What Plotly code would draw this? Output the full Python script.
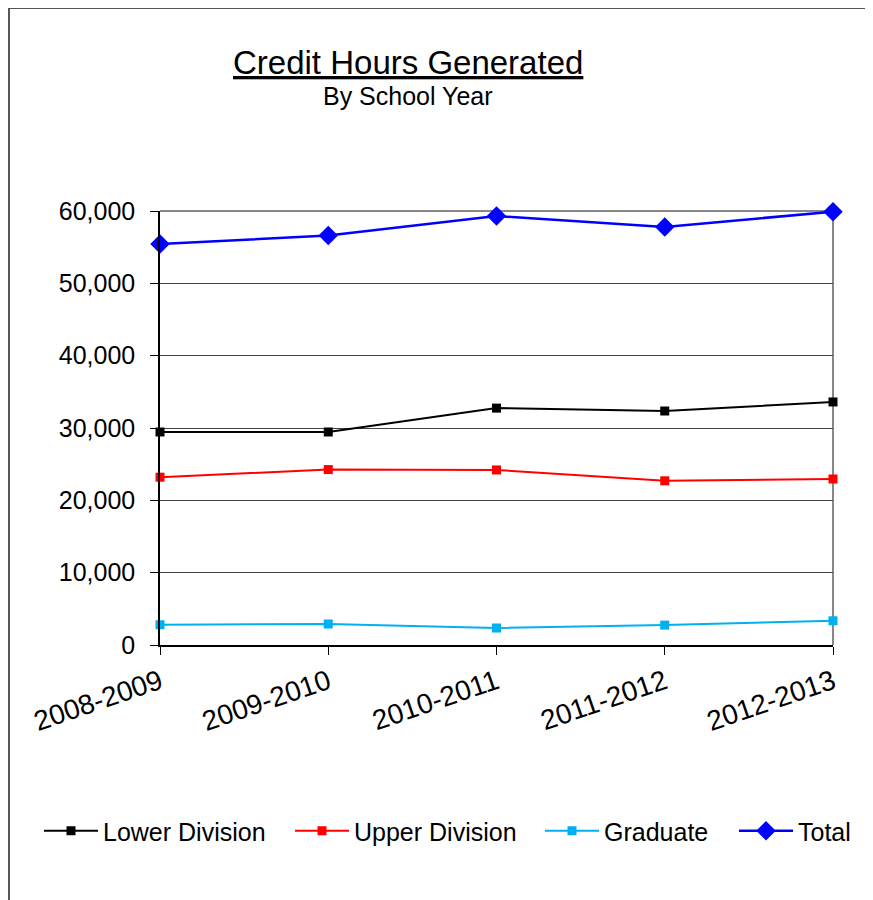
import plotly.graph_objects as go

years = ["2008-2009", "2009-2010", "2010-2011", "2011-2012", "2012-2013"]
lower_division = [29450, 29450, 32750, 32350, 33600]
upper_division = [23200, 24250, 24200, 22700, 22950]
graduate = [2800, 2900, 2350, 2750, 3350]
total = [55450, 56600, 59300, 57800, 59900]
y_ticks = [0, 10000, 20000, 30000, 40000, 50000, 60000]

# page draws the figure 8px in from the top-left (body margin)
OFF = 8
W, H = 873, 900
L, T = 152, 203
pw, ph = 673, 434
R, B = W - L - pw, H - T - ph


def px(x):
    # screen x -> paper x
    return (x - OFF - L) / pw


def py(y):
    # screen y -> paper y
    return (H - B - (y - OFF)) / ph


x_idx = list(range(len(years)))

fig = go.Figure()
fig.add_trace(go.Scatter(x=x_idx, y=lower_division, mode="lines+markers", name="Lower Division", legend="legend",
                         line=dict(color="black", width=2), marker=dict(symbol="square", size=9, color="black"),
                         cliponaxis=False))
fig.add_trace(go.Scatter(x=x_idx, y=upper_division, mode="lines+markers", name="Upper Division", legend="legend2",
                         line=dict(color="#FF0000", width=2), marker=dict(symbol="square", size=9, color="#FF0000"),
                         cliponaxis=False))
fig.add_trace(go.Scatter(x=x_idx, y=graduate, mode="lines+markers", name="Graduate", legend="legend3",
                         line=dict(color="#00B0F0", width=2), marker=dict(symbol="square", size=9, color="#00B0F0"),
                         cliponaxis=False))
fig.add_trace(go.Scatter(x=x_idx, y=total, mode="lines+markers", name="Total", legend="legend4",
                         line=dict(color="#0000FF", width=2.5), marker=dict(symbol="diamond", size=15, color="#0000FF"),
                         cliponaxis=False))

font = "Liberation Sans, Arial, sans-serif"


def leg(x_screen):
    return dict(orientation="h", x=px(x_screen), xanchor="left", y=py(831), yanchor="middle",
                font=dict(size=25), itemwidth=54, bgcolor="rgba(0,0,0,0)")


fig.update_layout(
    width=W, height=H,
    margin=dict(l=L, r=R, t=T, b=B),
    paper_bgcolor="white", plot_bgcolor="white",
    font=dict(family=font, size=25, color="black"),
    showlegend=True,
    legend=leg(39), legend2=leg(290), legend3=leg(540), legend4=leg(734),
    xaxis=dict(range=[0, 4], tickmode="array", tickvals=x_idx, ticktext=years, tickangle=-19,
               showgrid=False, zeroline=False, showline=True, linecolor="black", linewidth=1.5,
               ticks="outside", ticklen=8, tickcolor="black", tickfont=dict(size=28)),
    yaxis=dict(range=[0, 60000], tickmode="array", tickvals=y_ticks,
               ticktext=[f"{v:,}" for v in y_ticks],
               showgrid=True, gridcolor="#444", gridwidth=1, zeroline=False,
               showline=True, linecolor="black", linewidth=1.5,
               ticks="outside", ticklen=8, tickcolor="black", ticklabelstandoff=10,
               tickfont=dict(size=25)),
    annotations=[
        dict(text="<u>Credit Hours Generated</u>", x=px(408), y=py(62), xref="paper", yref="paper",
             showarrow=False, font=dict(size=33), xanchor="center", yanchor="middle"),
        dict(text="By School Year", x=px(408), y=py(96), xref="paper", yref="paper",
             showarrow=False, font=dict(size=25), xanchor="center", yanchor="middle"),
    ],
    shapes=[
        # outer frame
        dict(type="rect", xref="paper", yref="paper", x0=px(9), x1=px(W + 40), y0=py(H + 40), y1=py(8),
             line=dict(color="#555", width=2), layer="below"),
        # plot border top and right
        dict(type="line", xref="paper", yref="paper", x0=0, x1=1, y0=1, y1=1,
             line=dict(color="#888", width=2), layer="below"),
        dict(type="line", xref="paper", yref="paper", x0=1, x1=1, y0=0, y1=1,
             line=dict(color="#888", width=2), layer="below"),
    ],
)

fig.write_html("out.html")
